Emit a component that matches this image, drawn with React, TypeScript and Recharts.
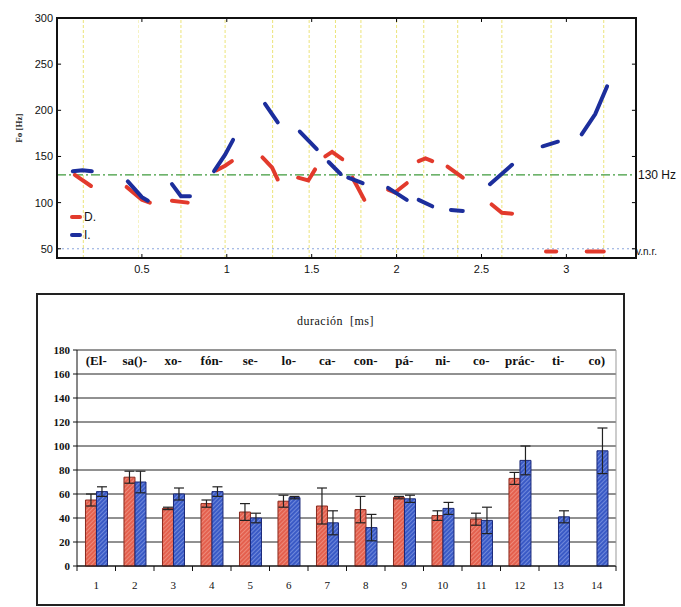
import React from 'react';
import {
  LineChart,
  Line,
  XAxis,
  YAxis,
  ReferenceLine,
  BarChart,
  Bar,
  ErrorBar,
  CartesianGrid,
} from 'recharts';

// colours
const RED = '#e23a2c';
const BLUE = '#1c2e9c';

// ---- upper panel: F0 contours, [time (s), F0 (Hz)] per voiced stretch ----
const dContours: number[][][] = [
  [[0.105, 130], [0.2, 118]],
  [[0.41, 117], [0.5, 103], [0.547, 100]],
  [[0.677, 102], [0.77, 100]],
  [[0.94, 135], [0.99, 140], [1.03, 145]],
  [[1.21, 149], [1.267, 138], [1.3, 125]],
  [[1.42, 127], [1.48, 124], [1.52, 136]],
  [[1.58, 150], [1.62, 155], [1.68, 147]],
  [[1.74, 127], [1.77, 117], [1.81, 103]],
  [[1.95, 114], [1.99, 111], [2.06, 121]],
  [[2.13, 145], [2.17, 148], [2.21, 145]],
  [[2.3, 139], [2.39, 127]],
  [[2.56, 98], [2.62, 89], [2.68, 88]],
  [[2.88, 47], [2.94, 47]],
  [[3.12, 47], [3.22, 47]],
];

const iContours: number[][][] = [
  [[0.093, 134], [0.15, 135], [0.205, 134]],
  [[0.417, 123], [0.5, 106], [0.535, 102]],
  [[0.677, 120], [0.73, 107], [0.783, 107]],
  [[0.925, 134], [0.99, 152], [1.037, 168]],
  [[1.225, 207], [1.3, 187]],
  [[1.43, 177], [1.53, 158]],
  [[1.6, 144], [1.67, 131]],
  [[1.715, 127], [1.8, 121]],
  [[1.95, 116], [2.06, 103]],
  [[2.13, 103], [2.21, 96]],
  [[2.32, 92], [2.39, 91]],
  [[2.55, 120], [2.68, 141]],
  [[2.86, 161], [2.95, 166]],
  [[3.09, 174], [3.17, 196], [3.24, 226]],
];

const boundaries = [0.155, 0.73, 0.99, 1.27, 1.485, 1.64, 1.79, 2.0, 2.16, 2.36, 2.62, 2.91, 3.22];
const faintBoundaries = [0.48];
const timeTicks = [0.5, 1, 1.5, 2, 2.5, 3];
const f0Ticks = [50, 100, 150, 200, 250, 300];
const refF0 = 130;
const vnrF0 = 50;
const tDomain = [0, 3.41];
const f0Domain = [40, 300];
const legendItems = [
  { name: 'D.', color: RED },
  { name: 'I.', color: BLUE },
];

// one row per time point, one column per contour stretch
const contourKeys: { key: string; color: string }[] = [];
const rowMap = new Map<number, Record<string, number>>();
const addContours = (prefix: string, color: string, segs: number[][][]) => {
  segs.forEach((seg, k) => {
    const key = prefix + k;
    contourKeys.push({ key, color });
    seg.forEach(([t, f]) => {
      const row = rowMap.get(t) || { t };
      row[key] = f;
      rowMap.set(t, row);
    });
  });
};
addContours('d', RED, dContours);
addContours('i', BLUE, iContours);
const contourRows = [...rowMap.values()].sort((a, b) => a.t - b.t);

// ---- lower panel: syllable durations (ms) ----
const positions = ['1', '2', '3', '4', '5', '6', '7', '8', '9', '10', '11', '12', '13', '14'];
const syllables = ['(El-', 'sa()-', 'xo-', 'fón-', 'se-', 'lo-', 'ca-', 'con-', 'pá-', 'ni-', 'co-', 'prác-', 'ti-', 'co)'];
const dDur = [55, 74, 48, 52, 45, 54, 50, 47, 57, 42, 39, 73, null, null];
const dErr = [5, 5, 1, 3, 7, 5, 15, 11, 1, 4, 5, 5, null, null];
const iDur = [62, 70, 60, 62, 40, 57, 36, 32, 56, 48, 38, 88, 41, 96];
const iErr = [4, 9, 5, 4, 4, 1, 10, 11, 3, 5, 11, 12, 5, 19];
const durTicks = [0, 20, 40, 60, 80, 100, 120, 140, 160, 180];

const durRows = positions.map((n, k) => ({
  n,
  pos: k + 1,
  syl: syllables[k],
  d: dDur[k],
  dErr: dErr[k],
  i: iDur[k],
  iErr: iErr[k],
}));
const edgeTicks = [...positions.map((_, k) => k + 0.5), positions.length + 0.5];

const sans = 'Liberation Sans, Arial, sans-serif';
const serif = 'Liberation Serif, Times New Roman, serif';

// upper chart geometry
const TOP_W = 681;
const TOP_H = 285;
const topMargin = { top: 18, right: 45, bottom: 7, left: 17 };
const Y_W = 40;
const X_H = 20;

// short inward tick marks, in axis units (~4px)
const tTick = 0.024;
const fTick = 4.3;

const EmptyTick = () => <g />;

const SyllableTick = (props: any) => {
  const { x, y, payload } = props;
  return (
    <text x={x} y={y} dy={15} textAnchor="middle" fontFamily={serif} fontWeight="bold" fontSize={13} fill="#111">
      {payload.value}
    </text>
  );
};

const App = () => {
  const tickText = { fontSize: 11, fill: '#111', fontFamily: sans };
  const [t0, t1] = tDomain;
  const [f0, f1] = f0Domain;
  const tickLine = { stroke: '#000', strokeWidth: 1 };
  const plotLeft = topMargin.left + Y_W;
  const plotTop = topMargin.top;
  const plotW = TOP_W - plotLeft - topMargin.right;
  const plotH = TOP_H - plotTop - topMargin.bottom - X_H;
  const edge = { position: 'absolute' as const, background: '#111', pointerEvents: 'none' as const, zIndex: 5 };
  return (
    <div style={{ position: 'absolute', left: 0, top: 0, width: 681, height: 607, background: '#fff' }}>
      <div style={{ position: 'absolute', left: 0, top: 0, width: TOP_W, height: TOP_H }}>
        <LineChart width={TOP_W} height={TOP_H} data={contourRows} margin={topMargin}>
          {/* frame drawn as grid lines on the four plot edges */}
          <CartesianGrid
            stroke="#111"
            strokeWidth={1.5}
            horizontalPoints={[plotTop, plotTop + plotH]}
            verticalPoints={[plotLeft, plotLeft + plotW]}
          />
          <XAxis
            dataKey="t"
            type="number"
            domain={tDomain}
            allowDataOverflow
            ticks={timeTicks}
            tickLine={false}
            tickSize={0}
            tickMargin={7}
            height={X_H}
            stroke="#111"
            tick={tickText}
          />
          <YAxis
            type="number"
            domain={f0Domain}
            allowDataOverflow
            ticks={f0Ticks}
            tickLine={false}
            tickSize={0}
            tickMargin={4}
            width={Y_W}
            stroke="#111"
            tick={tickText}
            label={{
              value: 'Fo [Hz]',
              angle: -90,
              position: 'insideLeft',
              offset: 2,
              dy: -10,
              style: { textAnchor: 'middle', fontSize: 9, fontFamily: serif, fontWeight: 'bold', fill: '#222' },
            }}
          />
          {boundaries.map((t) => (
            <ReferenceLine key={'b' + t} x={t} stroke="#ece47a" strokeWidth={1} strokeDasharray="3 2" />
          ))}
          {faintBoundaries.map((t) => (
            <ReferenceLine key={'f' + t} x={t} stroke="#f6f3c4" strokeWidth={1} strokeDasharray="3 2" />
          ))}
          <ReferenceLine
            y={refF0}
            stroke="#3f9a3c"
            strokeWidth={1.2}
            strokeDasharray="9 3 2 3"
            label={{ value: '130 Hz', position: 'right', offset: 2, fill: '#111', fontSize: 12, fontFamily: sans }}
          />
          <ReferenceLine
            y={vnrF0}
            stroke="#8aa6dc"
            strokeWidth={1}
            strokeDasharray="2 3"
            label={{ value: 'v.n.r.', position: 'right', offset: 0, dy: 3, fill: '#111', fontSize: 10, fontFamily: sans }}
          />
          {/* inward ticks on all four sides */}
          {timeTicks.map((t) => (
            <ReferenceLine key={'tb' + t} segment={[{ x: t, y: f0 }, { x: t, y: f0 + fTick }]} {...tickLine} />
          ))}
          {timeTicks.map((t) => (
            <ReferenceLine key={'tt' + t} segment={[{ x: t, y: f1 }, { x: t, y: f1 - fTick }]} {...tickLine} />
          ))}
          {f0Ticks.map((v) => (
            <ReferenceLine key={'tl' + v} segment={[{ x: t0, y: v }, { x: t0 + tTick, y: v }]} {...tickLine} />
          ))}
          {f0Ticks.map((v) => (
            <ReferenceLine key={'tr' + v} segment={[{ x: t1, y: v }, { x: t1 - tTick, y: v }]} {...tickLine} />
          ))}
          {contourKeys.map((c) => (
            <Line
              key={c.key}
              dataKey={c.key}
              type="linear"
              stroke={c.color}
              strokeWidth={4}
              strokeLinecap="round"
              connectNulls
              dot={false}
              isAnimationActive={false}
            />
          ))}
        </LineChart>
        {/* plot frame fallback */}
        <div style={{ ...edge, left: plotLeft - 1, top: plotTop - 1, width: plotW + 2, height: 2 }} />
        <div style={{ ...edge, left: plotLeft - 1, top: plotTop + plotH - 1, width: plotW + 2, height: 2 }} />
        <div style={{ ...edge, left: plotLeft - 1, top: plotTop - 1, width: 2, height: plotH + 2 }} />
        <div style={{ ...edge, left: plotLeft + plotW - 1, top: plotTop - 1, width: 2, height: plotH + 2 }} />
        {/* legend */}
        <div style={{ position: 'absolute', left: 70, top: 208, fontFamily: sans, fontSize: 12, color: '#111', zIndex: 5 }}>
          {legendItems.map((it) => (
            <div key={it.name} style={{ display: 'flex', alignItems: 'center', height: 18 }}>
              <span style={{ width: 12, height: 4, background: it.color, borderRadius: 2, marginRight: 2 }} />
              <span>{it.name}</span>
            </div>
          ))}
        </div>
      </div>

      <div
        style={{
          position: 'absolute',
          left: 36,
          top: 293,
          width: 585,
          height: 309,
          border: '2px solid #222',
          background: '#fff',
        }}
      >
        <div
          style={{
            position: 'absolute',
            left: 0,
            width: 595,
            top: 19,
            textAlign: 'center',
            fontFamily: serif,
            fontSize: 12,
            letterSpacing: 0.5,
            color: '#111',
          }}
        >
          duración&nbsp; [ms]
        </div>
        <BarChart
          width={585}
          height={309}
          data={durRows}
          margin={{ top: 54, right: 6, bottom: 8, left: 9 }}
          barCategoryGap="22%"
          barGap={0}
        >
          <defs>
            <pattern id="hatchRed" width="3" height="3" patternUnits="userSpaceOnUse" patternTransform="rotate(45)">
              <rect width="3" height="3" fill="#e4604e" />
              <line x1="0" y1="0" x2="0" y2="3" stroke="#f6b4a6" strokeWidth="1" />
            </pattern>
            <pattern id="hatchBlue" width="3" height="3" patternUnits="userSpaceOnUse" patternTransform="rotate(45)">
              <rect width="3" height="3" fill="#3a5ac6" />
              <line x1="0" y1="0" x2="0" y2="3" stroke="#a6b8f0" strokeWidth="1" />
            </pattern>
          </defs>
          <CartesianGrid vertical={false} stroke="#222" strokeWidth={1} />
          {/* numeric axis over the same band, carries the boundary ticks */}
          <XAxis
            dataKey="pos"
            type="number"
            domain={[0.5, positions.length + 0.5]}
            allowDataOverflow
            ticks={edgeTicks}
            tick={<EmptyTick />}
            tickSize={5}
            height={1}
            stroke="#111"
          />
          <XAxis
            xAxisId="cat"
            dataKey="n"
            tickLine={false}
            axisLine={false}
            tickSize={0}
            tickMargin={14}
            height={29}
            tick={{ fontSize: 11, fill: '#111', fontFamily: serif }}
            interval={0}
          />
          <XAxis
            xAxisId="syl"
            dataKey="syl"
            orientation="top"
            tickLine={false}
            tickSize={0}
            tickMargin={0}
            height={1}
            interval={0}
            stroke="#999"
            tick={<SyllableTick />}
          />
          <YAxis
            domain={[0, 180]}
            ticks={durTicks}
            tickSize={4}
            tickMargin={3}
            width={30}
            stroke="#111"
            tick={{ fontSize: 11, fontWeight: 'bold', fill: '#111', fontFamily: serif }}
          />
          <YAxis yAxisId="r" orientation="right" domain={[0, 180]} width={1} tick={false} tickLine={false} stroke="#999" />
          <Bar xAxisId="cat" dataKey="d" fill="url(#hatchRed)" stroke="#8a2a1e" strokeWidth={1} isAnimationActive={false}>
            <ErrorBar dataKey="dErr" width={5} stroke="#222" strokeWidth={1.2} direction="y" />
          </Bar>
          <Bar xAxisId="cat" dataKey="i" fill="url(#hatchBlue)" stroke="#1a2878" strokeWidth={1} isAnimationActive={false}>
            <ErrorBar dataKey="iErr" width={5} stroke="#222" strokeWidth={1.2} direction="y" />
          </Bar>
        </BarChart>
      </div>
    </div>
  );
};

export default App;
